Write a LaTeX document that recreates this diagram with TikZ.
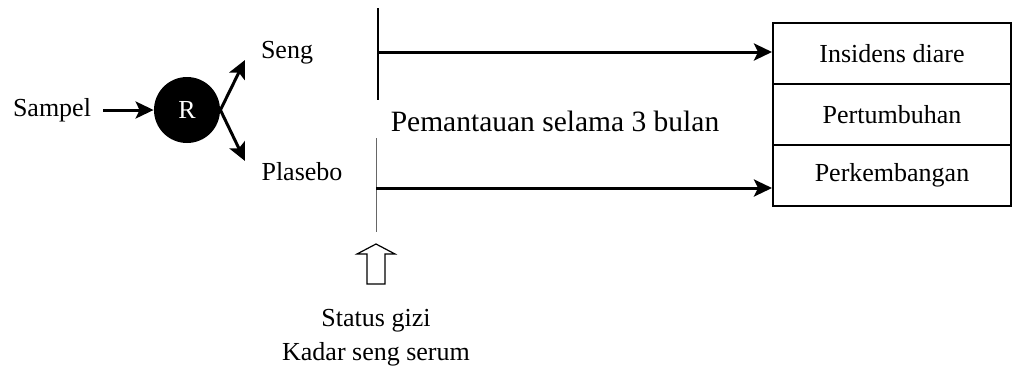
\documentclass[tikz,border=0pt]{standalone}
\usepackage{fontspec}
\setmainfont{Liberation Serif}
\usetikzlibrary{arrows.meta}
\tikzstyle{arrow} = [line width=1.5pt,-{Stealth[length=9pt,width=8.5pt,inset=2pt]}]
\tikzstyle{txt} = [font=\fontsize{13}{15}\selectfont, inner sep=0pt]
\tikzstyle{rand} = [circle, fill=black, text=white, minimum size=33pt, txt]
\tikzstyle{outcome} = [rectangle, draw=black, line width=1pt, minimum width=119pt, minimum height=30.5pt, txt]

\begin{document}
\begin{tikzpicture}[x=0.5pt, y=-0.5pt, node distance=30.5pt]
    \useasboundingbox (0,0) rectangle (1013,371);

    \node (sampel) [txt, inner sep=6pt] at (52,110) {Sampel};
    \node (R) [rand] at (187,110) {R};
    \node (seng) [txt] at (287,53) {Seng};
    \node (plasebo) [txt] at (302,172) {Plasebo};

    \node (insidens) [outcome] at (892,53.5) {Insidens diare};
    \node (pertumbuhan) [outcome, below of=insidens] {Pertumbuhan};
    \node (perkembangan) [outcome, below of=pertumbuhan] {Perkembangan};

    \node (pemantauan) [txt, font=\fontsize{14.75}{17}\selectfont] at (555,121) {Pemantauan selama 3 bulan};
    \node (statusgizi) [txt] at (376,321) {Status gizi};
    \node (kadarseng) [txt] at (376,354) {Kadar seng serum};

    \coordinate (sengtip) at (245,60);
    \coordinate (plasebotip) at (245,161);
    \coordinate (sengstart) at (378,52);
    \coordinate (plasebostart) at (376,188);

    \draw [arrow] (sampel) -- (R);
    \draw [arrow] (R.east) -- (sengtip);
    \draw [arrow] (R.east) -- (plasebotip);

    % garis mulai intervensi
    \draw [line width=1.1pt] (378,8) -- (378,100);
    \draw [line width=0.5pt, black!60] (376,138) -- (376,232);

    \draw [arrow] (sengstart) -- (sengstart -| insidens.west);
    \draw [arrow] (plasebostart) -- (plasebostart -| perkembangan.west);

    % panah pengukuran awal
    \draw [line width=0.6pt] (367,284) -- (367,254) -- (357,254) -- (376,244) -- (395,254) -- (385,254) -- (385,284) -- cycle;

\end{tikzpicture}
\end{document}
